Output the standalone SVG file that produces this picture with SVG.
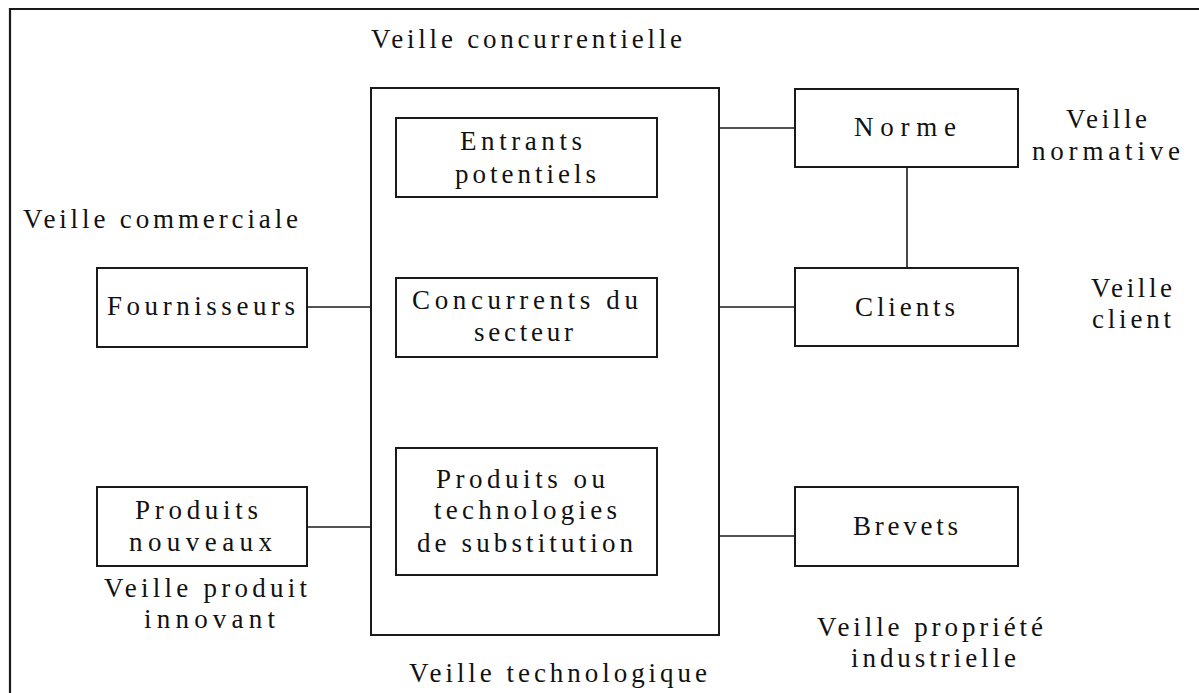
<svg xmlns="http://www.w3.org/2000/svg" width="1199" height="693" viewBox="0 0 1199 693">
  <style>
    .box { fill: #ffffff; stroke: #1a1a1a; stroke-width: 2; }
    .frame { fill: none; stroke: #1a1a1a; stroke-width: 2.2; }
    .link { fill: none; stroke: #1a1a1a; stroke-width: 1.6; }
    text { font-family: "Liberation Serif", "DejaVu Serif", serif; font-size: 27px; fill: #111111; }
  </style>
  <rect width="1199" height="693" fill="#ffffff"/>

  <!-- outer frame (top and left edges only) -->
  <path class="frame" d="M10 693 V9 H1199"/>

  <!-- connectors -->
  <g id="connectors">
    <line class="link" x1="307" y1="307" x2="371" y2="307"/>
    <line class="link" x1="307" y1="527" x2="371" y2="527"/>
    <line class="link" x1="719" y1="128" x2="795" y2="128"/>
    <line class="link" x1="719" y1="307" x2="795" y2="307"/>
    <line class="link" x1="719" y1="536" x2="795" y2="536"/>
    <line class="link" x1="907" y1="167" x2="907" y2="268"/>
  </g>

  <!-- central block: competitive environment -->
  <g id="secteur">
    <rect class="box" x="371" y="88" width="348" height="547"/>
  </g>
  <g id="entrants">
    <rect class="box" x="396" y="118" width="261" height="79"/>
    <text x="460" y="150" textLength="122" lengthAdjust="spacing">Entrants</text>
    <text x="455" y="183" textLength="141" lengthAdjust="spacing">potentiels</text>
  </g>
  <g id="concurrents">
    <rect class="box" x="396" y="278" width="261" height="79"/>
    <text x="412" y="309" textLength="226" lengthAdjust="spacing">Concurrents du</text>
    <text x="474" y="341" textLength="99" lengthAdjust="spacing">secteur</text>
  </g>
  <g id="substitution">
    <rect class="box" x="396" y="448" width="261" height="127"/>
    <text x="436" y="488" textLength="169" lengthAdjust="spacing">Produits ou</text>
    <text x="434" y="519" textLength="183" lengthAdjust="spacing">technologies</text>
    <text x="417" y="552" textLength="216" lengthAdjust="spacing">de substitution</text>
  </g>

  <!-- left side -->
  <g id="fournisseurs">
    <rect class="box" x="97" y="268" width="210" height="79"/>
    <text x="107" y="315" textLength="188" lengthAdjust="spacing">Fournisseurs</text>
  </g>
  <g id="produits-nouveaux">
    <rect class="box" x="97" y="487" width="210" height="79"/>
    <text x="135" y="519" textLength="123" lengthAdjust="spacing">Produits</text>
    <text x="129" y="551" textLength="143" lengthAdjust="spacing">nouveaux</text>
  </g>

  <!-- right side -->
  <g id="norme">
    <rect class="box" x="795" y="89" width="223" height="78"/>
    <text x="854" y="136" textLength="102" lengthAdjust="spacing">Norme</text>
  </g>
  <g id="clients">
    <rect class="box" x="795" y="268" width="223" height="78"/>
    <text x="855" y="316" textLength="100" lengthAdjust="spacing">Clients</text>
  </g>
  <g id="brevets">
    <rect class="box" x="795" y="487" width="223" height="79"/>
    <text x="853" y="535" textLength="105" lengthAdjust="spacing">Brevets</text>
  </g>

  <!-- watch-type labels -->
  <g id="labels">
    <text x="371" y="48" textLength="311" lengthAdjust="spacing">Veille concurrentielle</text>
    <text x="23" y="228" textLength="275" lengthAdjust="spacing">Veille commerciale</text>
    <text x="104" y="597" textLength="203" lengthAdjust="spacing">Veille produit</text>
    <text x="144" y="628" textLength="131" lengthAdjust="spacing">innovant</text>
    <text x="409" y="682" textLength="298" lengthAdjust="spacing">Veille technologique</text>
    <text x="1066" y="128" textLength="81" lengthAdjust="spacing">Veille</text>
    <text x="1032" y="160" textLength="148" lengthAdjust="spacing">normative</text>
    <text x="1091" y="297" textLength="81" lengthAdjust="spacing">Veille</text>
    <text x="1092" y="328" textLength="79" lengthAdjust="spacing">client</text>
    <text x="817" y="636" textLength="226" lengthAdjust="spacing">Veille propriété</text>
    <text x="851" y="667" textLength="165" lengthAdjust="spacing">industrielle</text>
  </g>
</svg>
